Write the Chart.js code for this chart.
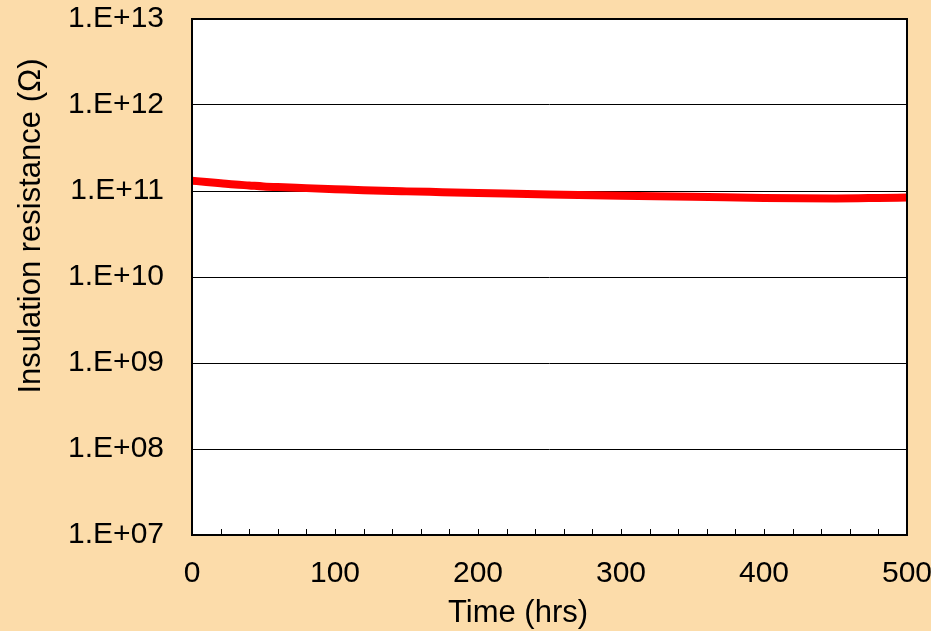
<!DOCTYPE html>
<html>
<head>
<meta charset="utf-8">
<script src="https://cdn.jsdelivr.net/npm/chart.js@4.4.0/dist/chart.umd.min.js"></script>
<style>
html,body{margin:0;padding:0;background:#FCDCAA;}
#wrap{width:931px;height:631px;position:relative;}
</style>
</head>
<body>
<div id="wrap"><canvas id="c" width="931" height="631"></canvas></div>
<script>
// Data
const timeHrs = [0, 10, 20, 30, 40, 50, 60, 80, 100, 120, 150, 175, 200, 250, 300, 350, 400, 450, 480, 500];
const resistance = [1.32e11, 1.27e11, 1.23e11, 1.19e11, 1.16e11, 1.13e11, 1.11e11, 1.08e11, 1.05e11, 1.02e11, 0.99e11, 0.97e11, 0.95e11, 0.91e11, 0.88e11, 0.86e11, 0.83e11, 0.82e11, 0.83e11, 0.84e11];
const yTickValues = [1e7, 1e8, 1e9, 1e10, 1e11, 1e12, 1e13];
const xTitle = 'Time (hrs)';
const yTitle = 'Insulation resistance (Ω)';

const FONT = '"Liberation Sans", Arial, sans-serif';

const framePlugin = {
  id: 'frame',
  afterDatasetsDraw(chart) {
    const {ctx, chartArea: a, scales} = chart;
    ctx.save();
    // inward minor tick marks on x axis
    ctx.strokeStyle = '#000';
    ctx.lineWidth = 1;
    scales.x.ticks.forEach(t => {
      const px = Math.round(scales.x.getPixelForValue(t.value)) + 0.5;
      ctx.beginPath();
      ctx.moveTo(px, a.bottom);
      ctx.lineTo(px, a.bottom - 6);
      ctx.stroke();
    });
    // plot border
    ctx.lineWidth = 2;
    ctx.strokeRect(a.left, a.top, a.right - a.left, a.bottom - a.top);
    // axis titles
    ctx.fillStyle = '#000';
    ctx.font = '31px ' + FONT;
    ctx.textAlign = 'center';
    ctx.textBaseline = 'middle';
    ctx.fillText(xTitle, 518, 613);
    ctx.translate(31, 226);
    ctx.rotate(-Math.PI / 2);
    ctx.fillText(yTitle, 0, 0);
    ctx.restore();
  }
};

const bgPlugin = {
  id: 'bg',
  beforeDraw(chart) {
    const {ctx, chartArea: a} = chart;
    ctx.save();
    ctx.fillStyle = '#FCDCAA';
    ctx.fillRect(0, 0, chart.width, chart.height);
    ctx.fillStyle = '#FFFFFF';
    ctx.fillRect(a.left, a.top, a.right - a.left, a.bottom - a.top);
    ctx.restore();
  }
};

new Chart(document.getElementById('c'), {
  type: 'line',
  data: {
    datasets: [{
      data: timeHrs.map((t, i) => ({x: t, y: resistance[i]})),
      borderColor: '#FF0000',
      borderWidth: 8,
      pointRadius: 0,
      cubicInterpolationMode: 'monotone',
      fill: false
    }]
  },
  options: {
    responsive: false,
    animation: false,
    devicePixelRatio: 1,
    layout: {padding: {top: 19, right: 24, bottom: 0, left: 0}},
    plugins: {legend: {display: false}, tooltip: {enabled: false}},
    scales: {
      x: {
        type: 'linear',
        min: 0, max: 500,
        afterFit(s) { s.height = 96; s.paddingLeft = 0; s.paddingRight = 0; },
        ticks: {
          stepSize: 20,
          autoSkip: false,
          maxRotation: 0,
          padding: 21,
          color: '#000',
          font: {family: FONT, size: 30},
          callback: v => (v % 100 === 0 ? String(v) : '')
        },
        grid: {display: false, drawTicks: false},
        border: {display: false}
      },
      y: {
        type: 'logarithmic',
        min: 1e7, max: 1e13,
        afterFit(s) { s.width = 192; s.paddingTop = 0; s.paddingBottom = 0; },
        afterBuildTicks(s) { s.ticks = yTickValues.map(v => ({value: v})); },
        ticks: {
          padding: 28,
          color: '#000',
          font: {family: FONT, size: 30},
          callback: v => {
            const e = Math.round(Math.log10(v));
            return '1.E+' + (e < 10 ? '0' + e : String(e));
          }
        },
        grid: {color: '#000', lineWidth: 1, drawTicks: false},
        border: {display: false}
      }
    }
  },
  plugins: [bgPlugin, framePlugin]
});
</script>
</body>
</html>
